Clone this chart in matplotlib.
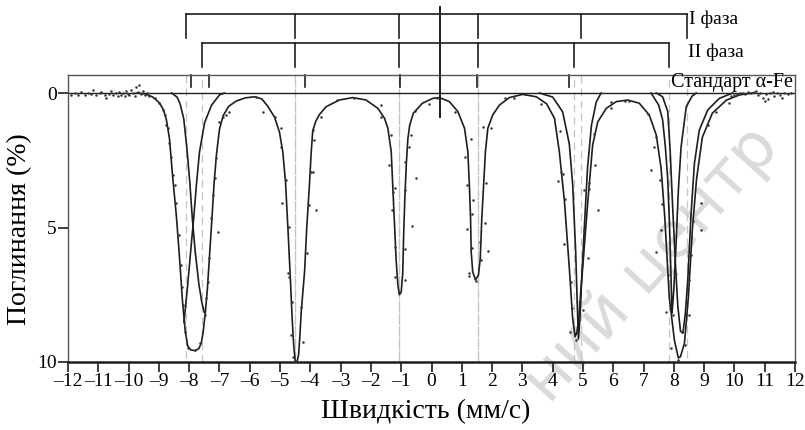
import matplotlib
matplotlib.use("Agg")
import matplotlib.pyplot as plt

plt.rcParams['font.family'] = ['Liberation Serif', 'DejaVu Serif']

# Mössbauer spectrum: total fit, partial lines and measured points
envelope_v = [-9.75, -9.45, -9.2, -8.98, -8.85, -8.75, -8.65, -8.55, -8.42, -8.32, -8.22, -8.13,
              -8.05, -7.95, -7.8, -7.68, -7.6, -7.54, -7.47, -7.4, -7.33, -7.25, -7.18, -7.1,
              -7.0, -6.88, -6.7, -6.45, -6.15, -5.84, -5.6, -5.4, -5.18, -5.02, -4.91, -4.82,
              -4.74, -4.66, -4.6, -4.55, -4.5, -4.44, -4.39, -4.35, -4.3, -4.19, -4.12, -4.03,
              -3.97, -3.92, -3.82, -3.7, -3.48, -3.04, -2.6, -2.16, -1.77, -1.55, -1.44, -1.33,
              -1.28, -1.22, -1.17, -1.11, -1.06, -1.0, -0.95, -0.92, -0.88, -0.83, -0.78, -0.72,
              -0.6, -0.3, 0.04, 0.26, 0.59, 0.87, 1.09, 1.2, 1.25, 1.29, 1.31, 1.36,
              1.45, 1.55, 1.61, 1.66, 1.72, 1.78, 1.86, 2.02, 2.24, 2.57, 3.01, 3.46,
              3.8, 4.06, 4.22, 4.39, 4.55, 4.66, 4.74, 4.8, 4.86, 4.99, 5.16, 5.32,
              5.49, 5.77, 6.1, 6.48, 6.86, 7.19, 7.42, 7.58, 7.7, 7.85, 8.02, 8.15,
              8.22, 8.35, 8.48, 8.61, 8.75, 8.94, 9.27, 9.74, 10.17, 10.6]
envelope_a = [0.0, 0.03, 0.15, 0.37, 0.62, 1.0, 1.7, 3.05, 4.6, 6.1, 7.75, 8.85,
              9.4, 9.55, 9.58, 9.5, 9.3, 8.9, 8.2, 7.3, 6.1, 4.7, 3.4, 2.3,
              1.35, 0.85, 0.5, 0.3, 0.18, 0.14, 0.22, 0.5, 0.9, 1.45, 2.18, 3.3,
              5.03, 6.89, 8.38, 9.37, 9.96, 10.0, 9.75, 9.12, 8.13, 6.64, 5.03, 3.42,
              2.18, 1.4, 1.05, 0.8, 0.51, 0.26, 0.17, 0.26, 0.57, 0.94, 1.31, 2.18,
              3.42, 4.91, 6.15, 7.14, 7.5, 7.4, 6.7, 5.3, 3.9, 2.6, 1.7, 1.2,
              0.75, 0.38, 0.2, 0.17, 0.32, 0.69, 1.31, 2.18, 3.42, 4.66, 5.9, 6.64,
              6.95, 6.77, 6.15, 4.66, 3.42, 2.18, 1.31, 0.82, 0.45, 0.17, 0.05, 0.14,
              0.4, 0.94, 2.18, 4.04, 6.52, 8.38, 9.06, 8.9, 8.38, 6.52, 4.04, 1.93,
              1.07, 0.57, 0.32, 0.26, 0.38, 0.82, 1.56, 2.8, 4.6, 7.6, 9.2, 9.85,
              9.8, 9.3, 7.6, 5.1, 3.2, 1.65, 0.75, 0.26, 0.07, 0.0]

# partial lines of the two sextets where they split off the total curve
line_a_v = [-8.17, -8.05, -7.92, -7.85, -7.76, -7.66, -7.49, -7.26, -7.0, -6.83]
line_a_a = [8.5, 7.15, 5.5, 4.65, 3.4, 2.2, 1.1, 0.45, 0.07, 0.0]
line_b_v = [-8.58, -8.4, -8.3, -8.18, -8.08, -7.98, -7.9, -7.8, -7.68, -7.58, -7.5]
line_b_a = [0.0, 0.15, 0.4, 0.95, 2.0, 3.3, 4.6, 5.9, 7.1, 7.8, 8.15]
line_c_v = [3.56, 4.0, 4.33, 4.55, 4.66, 4.76, 4.81, 4.85, 4.9, 4.95, 5.05, 5.15, 5.28, 5.44, 5.6]
line_c_a = [0.0, 0.15, 0.7, 1.9, 3.4, 5.9, 7.8, 9.15, 8.4, 7.1, 4.9, 2.8, 1.2, 0.33, 0.0]
line_d_v = [7.25, 7.5, 7.63, 7.72, 7.8, 7.86, 7.91, 7.94, 8.0, 8.07, 8.15, 8.24, 8.41, 8.6, 8.74]
line_d_a = [0.0, 0.45, 1.0, 2.0, 3.23, 5.0, 6.95, 8.19, 7.3, 5.71, 3.6, 2.0, 0.51, 0.12, 0.0]
line_e_v = [7.42, 7.63, 7.8, 7.88, 7.96, 8.05, 8.13, 8.22, 8.3, 8.38, 8.46, 8.57, 8.68, 8.84,
            9.12, 9.5, 9.94]
line_e_a = [0.0, 0.14, 0.69, 2.18, 4.2, 6.3, 7.9, 8.85, 8.93, 8.2, 6.95, 4.47, 2.61, 1.38,
            0.63, 0.2, 0.0]

points_v = [-11.89, -11.78, -11.67, -11.56, -11.45, -11.34, -11.23, -11.18, -11.07, -10.96,
            -10.9, -10.79, -10.74, -10.63, -10.57, -10.52, -10.41, -10.35, -10.3, -10.24,
            -10.19, -10.13, -10.08, -10.02, -9.97, -9.91, -9.86, -9.8, -9.75, -9.69,
            -9.64, -9.58, -9.53, -9.47, -9.4, -9.31,
            -9.14, -8.98, -8.87, -8.81, -8.76, -8.7, -8.65, -8.59, -8.54, -8.48, -8.43, -8.32,
            -8.26, -8.24, -8.21, -8.18, -8.15, -8.04, -7.82, -7.63, -7.49, -7.44, -7.38, -7.35,
            -7.27, -7.22, -7.16, -7.11, -7.05, -7.0, -6.89, -6.78, -6.67, -5.79, -5.57,
            -5.18, -4.96, -4.96, -4.93, -4.8, -4.71, -4.74, -4.72, -4.6, -4.63, -4.58, -4.49,
            -4.32, -4.25, -4.1, -4.05, -3.97, -3.92, -3.88, -3.92, -3.81, -3.64, -3.12, -2.57,
            -1.66, -1.66, -1.33, -1.41, -1.28, -1.22, -1.31, -1.22, -1.19,
            -0.89, -0.86, -0.89, -0.86, -0.67, -0.73, -0.5, -0.65, -0.56, -0.09, 0.19, 0.76,
            1.31, 1.09, 1.17, 1.36, 1.34, 1.17, 1.34, 1.25, 1.25, 1.47, 1.64, 1.61, 1.86,
            1.75, 1.8, 1.69, 1.97, 2.41, 2.74, 3.1, 3.62,
            4.25, 4.28, 4.33, 4.17, 4.42, 4.36, 4.61, 4.63, 4.58, 4.77, 4.86, 5.0, 5.03,
            5.05, 5.16, 5.21, 5.21, 5.4, 5.49, 5.38, 5.93, 5.93, 6.4, 6.51, 7.14,
            7.42, 7.36, 7.23, 7.55, 7.61, 7.58, 7.42, 7.8, 7.75, 7.96, 7.91, 8.13, 8.38,
            8.51, 8.49, 8.57, 8.9, 8.62, 8.9, 9.12, 9.4, 9.83,
            9.89, 10.0, 10.08, 10.17, 10.27, 10.36, 10.44, 10.55, 10.63, 10.72, 10.77, 10.85,
            10.94, 11.0, 11.05, 11.1, 11.18, 11.27, 11.32, 11.4, 11.49, 11.57, 11.65, 11.76,
            11.87]
points_a = [0.07, 0.01, 0.07, -0.05, 0.07, 0.01, 0.04, -0.11, 0.07, 0.01,
            -0.05, 0.07, 0.2, 0.04, -0.08, 0.07, 0.01, 0.1, -0.05, 0.07,
            0.01, 0.1, -0.08, 0.04, 0.07, -0.11, 0.01, 0.1, -0.24, -0.05,
            -0.3, 0.04, -0.08, 0.07, 0.01, 0.1,
            0.2, 0.38, 0.63, 0.82, 1.19, 1.31, 1.87, 2.37, 3.05, 3.42, 4.1, 5.28,
            6.39, 7.2, 7.88, 8.5, 8.87, 9.49, 9.55, 9.3, 8.25, 7.63, 7.01, 6.15,
            4.66, 3.79, 3.17, 2.43, 5.15, 1.07, 0.88, 0.82, 0.69, 0.14, 0.69,
            0.88, 1.31, 2.0, 4.1, 3.23, 4.97, 6.7, 6.83, 7.76, 9.0, 9.8, 9.99,
            7.94, 9.25, 5.96, 4.16, 2.93, 2.93, 1.75, 1.38, 4.35, 0.88, 0.26, 0.17,
            0.45, 0.88, 1.56, 2.68, 3.67, 3.54, 4.35, 5.71, 6.83,
            6.95, 5.81, 3.6, 2.55, 1.56, 2.0, 3.17, 4.95, 0.67, 0.42, 0.17, 0.72,
            1.72, 2.37, 3.42, 3.98, 4.51, 5.06, 5.77, 6.68, 6.8, 6.99, 6.21, 5.53, 5.86,
            4.82, 3.36, 1.28, 1.31, 0.2, 0.2, 0.05, 0.41,
            1.41, 2.95, 3.02, 3.27, 3.94, 5.62, 7.01, 7.98, 8.87, 9.18, 8.25, 8.07, 3.6,
            5.09, 6.12, 3.36, 3.57, 2.68, 4.35, 1.54, 0.35, 0.57, 0.3, 0.3, 0.79,
            1.62, 2.0, 2.86, 3.23, 4.14, 5.09, 5.9, 6.77, 8.13, 8.25, 9.49, 9.93, 9.37,
            8.25, 6.95, 6.02, 5.09, 4.76, 4.1, 1.19, 0.69, 0.38,
            0.11, 0.07, 0.04, 0.01, -0.01, 0.04, -0.05, 0.01, -0.05, -0.09, 0.07, -0.01,
            0.2, 0.29, 0.04, 0.23, 0.01, -0.05, 0.11, 0.01, 0.07, 0.2, -0.01, 0.04,
            0.01]

# line positions of the sextets and of the alpha-Fe standard (mm/s)
phase1_lines = [-8.12, -4.52, -1.06, 1.52, 4.95, 8.42]
phase2_lines = [-7.59, -4.49, -1.06, 1.52, 4.72, 7.85]
alpha_fe_lines = [-7.93, -7.33, -4.18, -1.05, 1.5, 4.53]
centre_shift = 0.28

x_ticks = list(range(-12, 13))
y_ticks = [0, 5, 10]


def main():
    fig = plt.figure(figsize=(8.05, 4.3), dpi=100)
    ax = fig.add_axes([68 / 805, 1 - 362 / 430, 727 / 805, 287 / 430])
    ax.set_xlim(-12, 12)
    ax.set_ylim(10, -0.67)

    ink = '#1e1e1e'

    # guide lines from the bracket ticks down to the axis
    ax.vlines(phase1_lines, -2.04, 10, colors='#c4c4c4', linestyles=(0, (6, 4)), lw=0.9, zorder=1)
    ax.vlines(phase2_lines, -0.97, 10, colors='#c4c4c4', linestyles=(0, (6, 4)), lw=0.9, zorder=1)

    ax.axhline(0, color=ink, lw=1.0, zorder=2)

    ax.plot(envelope_v, envelope_a, color=ink, lw=1.2, solid_joinstyle='round', zorder=3)
    for lv, la in [(line_a_v, line_a_a), (line_b_v, line_b_a), (line_c_v, line_c_a),
                   (line_d_v, line_d_a), (line_e_v, line_e_a)]:
        ax.plot(lv, la, color=ink, lw=1.2, solid_joinstyle='round', zorder=3)

    ax.plot(points_v, points_a, 'o', ms=1.8, color='#333333', mec='none', zorder=4)

    # brackets for the two phases
    for lines, y_bar, y_end in [(phase1_lines, -2.94, -2.04), (phase2_lines, -1.86, -0.97)]:
        ax.plot([lines[0], lines[-1]], [y_bar, y_bar], color=ink, lw=1.2, clip_on=False)
        for v in lines:
            ax.plot([v, v], [y_bar, y_end], color=ink, lw=1.2, clip_on=False)
    for v in alpha_fe_lines:
        ax.plot([v, v], [-0.67, -0.22], color=ink, lw=1.2, clip_on=False)
    ax.plot([centre_shift, centre_shift], [-3.2, 0.89], color=ink, lw=1.4, clip_on=False, zorder=5)

    ax.text(8.5, -2.57, 'I фаза', fontsize=14, va='baseline', ha='left')
    ax.text(8.47, -1.35, 'II фаза', fontsize=14, va='baseline', ha='left')
    ax.text(11.95, -0.24, 'Стандарт α-Fe', fontsize=14.5, va='baseline', ha='right')

    ax.set_xticks(x_ticks)
    ax.set_xticklabels([str(t).replace('-', '–') for t in x_ticks])
    ax.set_yticks(y_ticks)
    ax.tick_params(direction='out', length=7, width=1.2, labelsize=14, pad=1, color=ink)
    for side in ['left', 'right', 'top']:
        ax.spines[side].set_linewidth(1.0)
        ax.spines[side].set_color('#555555')
    ax.spines['bottom'].set_linewidth(1.8)
    ax.spines['bottom'].set_color(ink)

    fig.text(0.529, 1 - 412 / 430, 'Швидкість (мм/с)', fontsize=20, ha='center', va='center')
    fig.text(20 / 805, 1 - 229 / 430, 'Поглинання (%)', fontsize=20, ha='center', va='center',
             rotation=90)

    ax.text(0.81, 0.385, 'ний центр', transform=fig.transFigure, fontsize=46, color='#dadada',
            rotation=48, ha='center', va='center', family='DejaVu Sans', zorder=0)

    fig.savefig('out.png', dpi=100)


if __name__ == "__main__":
    main()
